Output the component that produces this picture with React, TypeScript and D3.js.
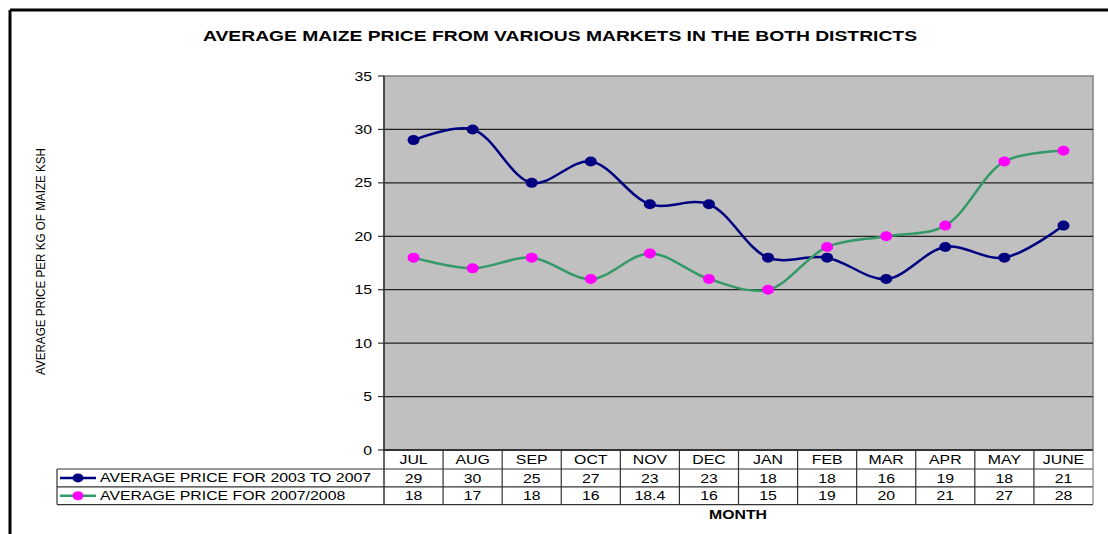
import React from "react";
import * as d3 from "d3";

const months = ["JUL", "AUG", "SEP", "OCT", "NOV", "DEC", "JAN", "FEB", "MAR", "APR", "MAY", "JUNE"];
const series1Name = "AVERAGE PRICE FOR 2003 TO 2007";
const series1 = [29, 30, 25, 27, 23, 23, 18, 18, 16, 19, 18, 21];
const series2Name = "AVERAGE PRICE FOR 2007/2008";
const series2 = [18, 17, 18, 16, 18.4, 16, 15, 19, 20, 21, 27, 28];
const yTicks = [0, 5, 10, 15, 20, 25, 30, 35];

const W = 1108;
const H = 534;
const FONT = "'Liberation Sans', Arial, sans-serif";
const SX = 1.32;

function T(props: { x: number; y: number; anchor?: string; size?: number; bold?: boolean; children: React.ReactNode }) {
  const { x, y, anchor = "start", size = 12, bold = false, children } = props;
  return (
    <text
      transform={`translate(${x},${y}) scale(${SX},1)`}
      textAnchor={anchor}
      fontSize={size}
      fontWeight={bold ? "bold" : "normal"}
    >
      {children}
    </text>
  );
}

export default function App() {
  const left = 384, right = 1093, top = 76, bottom = 450;
  const x = d3.scaleBand<string>().domain(months).range([left, right]);
  const y = d3.scaleLinear().domain([0, 35]).range([bottom, top]);
  const cx = (i: number) => (x(months[i]) as number) + x.bandwidth() / 2;
  const line = d3
    .line<number>()
    .x((_, i) => cx(i))
    .y((d) => y(d))
    .curve(d3.curveCatmullRom.alpha(0.5));

  const rowH = 17.8;
  const r0 = bottom, r1 = bottom + 19, r2 = r1 + rowH, r3 = r2 + rowH;
  const legLeft = 57;

  const series = [
    { name: series1Name, data: series1, line: "#000080", marker: "#000080" },
    { name: series2Name, data: series2, line: "#339966", marker: "#FF00FF" },
  ];

  return (
    <svg width={W} height={H} style={{ position: "absolute", left: 0, top: 0 }} fontFamily={FONT}>
      <rect x={0} y={0} width={W} height={H} fill="#fff" />
      <line x1={10} y1={10} x2={W} y2={10} stroke="#000" strokeWidth={3} />
      <line x1={10} y1={10} x2={10} y2={H} stroke="#000" strokeWidth={3} />

      <text x={203} y={41} fontSize={14} fontWeight="bold" textLength={714} lengthAdjust="spacingAndGlyphs">
        AVERAGE MAIZE PRICE FROM VARIOUS MARKETS IN THE BOTH DISTRICTS
      </text>

      <rect x={left} y={top} width={right - left} height={bottom - top} fill="#C0C0C0" stroke="#808080" strokeWidth={1.5} />
      {yTicks.map((t) => (
        <g key={t}>
          {t > 0 && t < 35 && (
            <line x1={left} x2={right} y1={y(t)} y2={y(t)} stroke="#222" strokeWidth={1.2} />
          )}
          <line x1={left - 6} x2={left} y1={y(t)} y2={y(t)} stroke="#333" strokeWidth={1.2} />
          <T x={372} y={y(t) + 4.5} anchor="end">{t}</T>
        </g>
      ))}
      <line x1={left} x2={left} y1={top} y2={bottom} stroke="#333" strokeWidth={1.5} />

      {series.map((s) => (
        <g key={s.name}>
          <path d={line(s.data) as string} fill="none" stroke={s.line} strokeWidth={2.5} />
          {s.data.map((v, i) => (
            <ellipse key={i} cx={cx(i)} cy={y(v)} rx={6} ry={5} fill={s.marker} />
          ))}
        </g>
      ))}

      <g stroke="#333" strokeWidth={1.2} fill="none">
        <line x1={left} x2={right} y1={r0} y2={r0} strokeWidth={2} />
        <line x1={legLeft} x2={right} y1={r1} y2={r1} />
        <line x1={legLeft} x2={right} y1={r2} y2={r2} />
        <line x1={legLeft} x2={right} y1={r3} y2={r3} />
        <line x1={legLeft} x2={legLeft} y1={r1} y2={r3} />
        <line x1={left} x2={left} y1={r0} y2={r3} strokeWidth={1.5} />
        {months.map((m, i) => (
          <line key={m} x1={(x(m) as number) + x.bandwidth()} x2={(x(m) as number) + x.bandwidth()} y1={r0} y2={r3} stroke={i === months.length - 1 ? "#808080" : "#333"} />
        ))}
      </g>
      {months.map((m, i) => (
        <g key={m}>
          <T x={cx(i)} y={r0 + 14} anchor="middle">{m}</T>
          <T x={cx(i)} y={r1 + 13.5} anchor="middle">{series1[i]}</T>
          <T x={cx(i)} y={r2 + 13.5} anchor="middle">{series2[i]}</T>
        </g>
      ))}
      {series.map((s, k) => {
        const yy = (k === 0 ? r1 : r2) + rowH / 2;
        return (
          <g key={s.name}>
            <line x1={60} x2={96} y1={yy} y2={yy} stroke={s.line} strokeWidth={2.5} />
            <ellipse cx={78} cy={yy} rx={5.5} ry={4.5} fill={s.marker} />
            <T x={100} y={yy + 4.5}>{s.name}</T>
          </g>
        );
      })}

      <T x={738} y={519} anchor="middle" bold>MONTH</T>

      <text
        transform="translate(45,375) rotate(-90)"
        x={0}
        y={0}
        fontSize={12}
        textLength={227}
        lengthAdjust="spacingAndGlyphs"
      >
        AVERAGE PRICE PER KG OF MAIZE KSH
      </text>
    </svg>
  );
}
